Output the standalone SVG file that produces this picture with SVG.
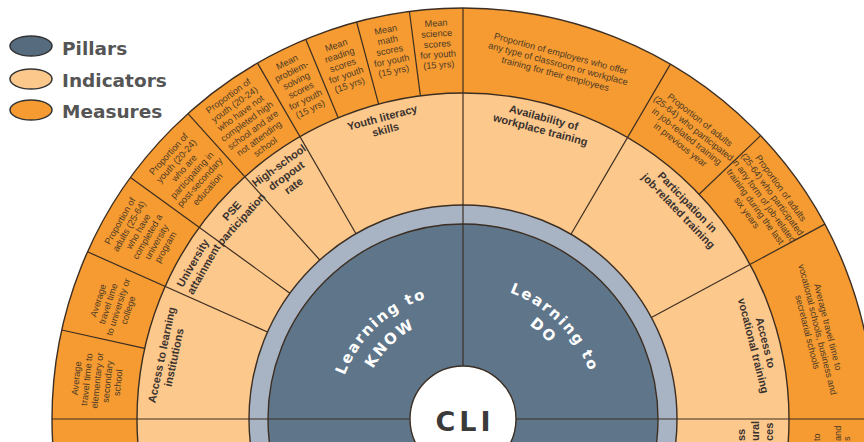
<svg xmlns="http://www.w3.org/2000/svg" width="864" height="442" viewBox="0 0 864 442">
<style>
.m{font-family:"Liberation Sans",Arial,sans-serif;font-size:9.2px;fill:#4d3a26;text-anchor:middle}
.i{font-family:"Liberation Sans",Arial,sans-serif;font-size:11px;font-weight:bold;fill:#3a3330;text-anchor:middle}
.lg{font-family:"DejaVu Sans",Verdana,sans-serif;font-size:18.5px;font-weight:bold;fill:#555}
.p{font-family:"DejaVu Sans",Verdana,sans-serif;font-size:15px;font-weight:bold;fill:#fff;letter-spacing:1.8px;text-anchor:middle}
.dv{stroke:#3c2e22;stroke-width:1.2;fill:none}
.ring{stroke:#3c2e22;stroke-width:1.4}
.le{stroke:#333;stroke-width:1.5}
</style>
<defs>
<path id="pk1" d="M -126 0 A 126 126 0 0 1 0 -126"/>
<path id="pk2" d="M -103 0 A 103 103 0 0 1 0 -103"/>
<path id="pd1" d="M 0 -135 A 135 135 0 0 1 135 0"/>
<path id="pd2" d="M 0 -115 A 115 115 0 0 1 115 0"/>
</defs>
<rect width="864" height="442" fill="#fff"/>
<g id="legend">
<ellipse class="le" cx="31" cy="46" rx="21" ry="10" fill="#566b7e"/>
<text class="lg" x="62" y="55">Pillars</text>
<ellipse class="le" cx="31" cy="79" rx="21" ry="10" fill="#fdc88c"/>
<text class="lg" x="62" y="87">Indicators</text>
<ellipse class="le" cx="31" cy="110" rx="21" ry="10" fill="#f59b31"/>
<text class="lg" x="62" y="118">Measures</text>
</g>
<g transform="translate(463,419)">
<g id="rings">
<circle class="ring" r="411" fill="#f59b31"/>
<circle class="ring" r="326" fill="#fdc88c"/>
<circle class="ring" r="214" fill="#a8b4c3"/>
<circle class="ring" r="195" fill="#5f768a"/>
<circle class="ring" r="53" fill="#fff"/>
</g>
<g id="connectors" class="dv">
<line x1="0" y1="-53" x2="0" y2="-411"/>
<line x1="-411" y1="0" x2="-53" y2="0"/>
<line x1="53" y1="0" x2="420" y2="0"/>
<line x1="-195.5" y1="-87.0" x2="-375.5" y2="-167.2"/>
<line x1="-173.1" y1="-125.8" x2="-332.5" y2="-241.6"/>
<line x1="-143.2" y1="-159.0" x2="-275.0" y2="-305.4"/>
<line x1="-107" y1="-185.3" x2="-205.5" y2="-355.9"/>
<line x1="108.0" y1="-184.8" x2="207.4" y2="-354.9"/>
<line x1="188.4" y1="-101.5" x2="361.9" y2="-194.9"/>
<line x1="-318.3" y1="-70.6" x2="-401.3" y2="-89.0"/>
<line x1="-124.8" y1="-301.2" x2="-157.3" y2="-379.7"/>
<line x1="-84.4" y1="-314.9" x2="-106.4" y2="-397.0"/>
<line x1="-42.6" y1="-323.2" x2="-53.6" y2="-407.5"/>
<line x1="236.1" y1="-224.8" x2="297.6" y2="-283.4"/>
</g>
<g id="pillar-know">
<text class="p"><textPath href="#pk1" startOffset="52%">Learning to</textPath></text>
<text class="p"><textPath href="#pk2" startOffset="51%">KNOW</textPath></text>
</g>
<g id="pillar-do">
<text class="p"><textPath href="#pd1" startOffset="50%">Learning to</textPath></text>
<text class="p"><textPath href="#pd2" startOffset="47%">DO</textPath></text>
</g>
<g id="cli">
<text x="2" y="12" style="font-family:'DejaVu Sans',Verdana,sans-serif;font-size:27px;font-weight:bold;fill:#3a3a3a;letter-spacing:4px;text-anchor:middle">CLI</text>
</g>
<g id="ind-access-learning"><text class="i" transform="translate(-295.4,-62.8) rotate(-78)"><tspan x="0" dy="-2.25">Access to learning</tspan><tspan x="0" dy="12.5">institutions</tspan></text></g>
<g id="ind-university"><text class="i" transform="translate(-265,-153) rotate(-60)"><tspan x="0" dy="-2.25">University</tspan><tspan x="0" dy="12.5">attainment</tspan></text></g>
<g id="ind-pse"><text class="i" transform="translate(-226.7,-204.1) rotate(-48)"><tspan x="0" dy="-2.25">PSE</tspan><tspan x="0" dy="12.5">participation</tspan></text></g>
<g id="ind-dropout"><text class="i" transform="translate(-176.9,-243.5) rotate(-36)"><tspan x="0" dy="-8.5">High-school</tspan><tspan x="0" dy="12.5">dropout</tspan><tspan x="0" dy="12.5">rate</tspan></text></g>
<g id="ind-literacy"><text class="i" transform="translate(-79.2,-295.6) rotate(-15)"><tspan x="0" dy="-2.25">Youth literacy</tspan><tspan x="0" dy="12.5">skills</tspan></text></g>
<g id="ind-workplace"><text class="i" transform="translate(79.2,-295.6) rotate(15)"><tspan x="0" dy="-2.25">Availability of</tspan><tspan x="0" dy="12.5">workplace training</tspan></text></g>
<g id="ind-participation"><text class="i" transform="translate(220.1,-212.6) rotate(46)"><tspan x="0" dy="-2.25">Participation in</tspan><tspan x="0" dy="12.5">job-related training</tspan></text></g>
<g id="ind-vocational"><text class="i" transform="translate(296.7,-74.8) rotate(75.85)"><tspan x="0" dy="-2.25">Access to</tspan><tspan x="0" dy="12.5">vocational training</tspan></text></g>
<g id="m-travel-school"><text class="m" transform="translate(-366,-38.5) rotate(-84)"><tspan x="0" dy="-17.7">Average</tspan><tspan x="0" dy="10.5">travel time to</tspan><tspan x="0" dy="10.5">elementary or</tspan><tspan x="0" dy="10.5">secondary</tspan><tspan x="0" dy="10.5">school</tspan></text></g>
<g id="m-travel-university"><text class="m" transform="translate(-350,-113.7) rotate(-72)"><tspan x="0" dy="-12.45">Average</tspan><tspan x="0" dy="10.5">travel time</tspan><tspan x="0" dy="10.5">to university or</tspan><tspan x="0" dy="10.5">college</tspan></text></g>
<g id="m-adults-university"><text class="m" transform="translate(-320.4,-185) rotate(-60)"><tspan x="0" dy="-22.95">Proportion of</tspan><tspan x="0" dy="10.5">adults (25-64)</tspan><tspan x="0" dy="10.5">who have</tspan><tspan x="0" dy="10.5">completed a</tspan><tspan x="0" dy="10.5">university</tspan><tspan x="0" dy="10.5">program</tspan></text></g>
<g id="m-youth-pse"><text class="m" transform="translate(-275,-247.6) rotate(-48)"><tspan x="0" dy="-22.95">Proportion of</tspan><tspan x="0" dy="10.5">youth (20-24)</tspan><tspan x="0" dy="10.5">who are</tspan><tspan x="0" dy="10.5">participating in</tspan><tspan x="0" dy="10.5">post-secondary</tspan><tspan x="0" dy="10.5">education</tspan></text></g>
<g id="m-youth-dropout"><text class="m" transform="translate(-216.3,-297.7) rotate(-36)"><tspan x="0" dy="-28.2">Proportion of</tspan><tspan x="0" dy="10.5">youth (20-24)</tspan><tspan x="0" dy="10.5">who have not</tspan><tspan x="0" dy="10.5">completed high</tspan><tspan x="0" dy="10.5">school and are</tspan><tspan x="0" dy="10.5">not attending</tspan><tspan x="0" dy="10.5">school</tspan></text></g>
<g id="m-problem"><text class="m" transform="translate(-164.5,-333.6) rotate(-26.25)"><tspan x="0" dy="-22.95">Mean</tspan><tspan x="0" dy="10.5">problem-</tspan><tspan x="0" dy="10.5">solving</tspan><tspan x="0" dy="10.5">scores</tspan><tspan x="0" dy="10.5">for youth</tspan><tspan x="0" dy="10.5">(15 yrs)</tspan></text></g>
<g id="m-reading"><text class="m" transform="translate(-120.2,-354.1) rotate(-18.75)"><tspan x="0" dy="-17.7">Mean</tspan><tspan x="0" dy="10.5">reading</tspan><tspan x="0" dy="10.5">scores</tspan><tspan x="0" dy="10.5">for youth</tspan><tspan x="0" dy="10.5">(15 yrs)</tspan></text></g>
<g id="m-math"><text class="m" transform="translate(-73.4,-368.8) rotate(-11.25)"><tspan x="0" dy="-17.7">Mean</tspan><tspan x="0" dy="10.5">math</tspan><tspan x="0" dy="10.5">scores</tspan><tspan x="0" dy="10.5">for youth</tspan><tspan x="0" dy="10.5">(15 yrs)</tspan></text></g>
<g id="m-science"><text class="m" transform="translate(-25.6,-375.2) rotate(-3.75)"><tspan x="0" dy="-17.7">Mean</tspan><tspan x="0" dy="10.5">science</tspan><tspan x="0" dy="10.5">scores</tspan><tspan x="0" dy="10.5">for youth</tspan><tspan x="0" dy="10.5">(15 yrs)</tspan></text></g>
<g id="m-employers"><text class="m" transform="translate(95.2,-355.5) rotate(15)"><tspan x="0" dy="-7.2">Proportion of employers who offer</tspan><tspan x="0" dy="10.5">any type of classroom or workplace</tspan><tspan x="0" dy="10.5">training for their employees</tspan></text></g>
<g id="m-adults-year"><text class="m" transform="translate(227.3,-286.8) rotate(38.4)"><tspan x="0" dy="-12.45">Proportion of adults</tspan><tspan x="0" dy="10.5">(25-64) who participated</tspan><tspan x="0" dy="10.5">in job-related training</tspan><tspan x="0" dy="10.5">in previous year</tspan></text></g>
<g id="m-adults-six"><text class="m" transform="translate(301,-218.7) rotate(54)"><tspan x="0" dy="-17.7">Proportion of adults</tspan><tspan x="0" dy="10.5">(25-64) who participated</tspan><tspan x="0" dy="10.5">in any form of job-related</tspan><tspan x="0" dy="10.5">training during the last</tspan><tspan x="0" dy="10.5">six years</tspan></text></g>
<g id="m-travel-vocational"><text class="m" transform="translate(354.9,-89.5) rotate(75.85)"><tspan x="0" dy="-7.2">Average travel time to</tspan><tspan x="0" dy="10.5">vocational schools, business and</tspan><tspan x="0" dy="10.5">secretarial schools</tspan></text></g>
</g>
<g id="lower-fragments">
<text class="i" style="text-anchor:start" transform="translate(745,441) rotate(-90)">ss</text>
<text class="i" style="text-anchor:start" transform="translate(759,441) rotate(-90)">ural</text>
<text class="i" style="text-anchor:start" transform="translate(773,441) rotate(-90)">ces</text>
<text class="m" style="text-anchor:start" transform="translate(820,441) rotate(-90)">to</text>
<text class="m" style="text-anchor:start" transform="translate(841,441) rotate(-90)">and</text>
<text class="m" style="text-anchor:start" transform="translate(850,441) rotate(-90)">s</text>
</g>
</svg>
